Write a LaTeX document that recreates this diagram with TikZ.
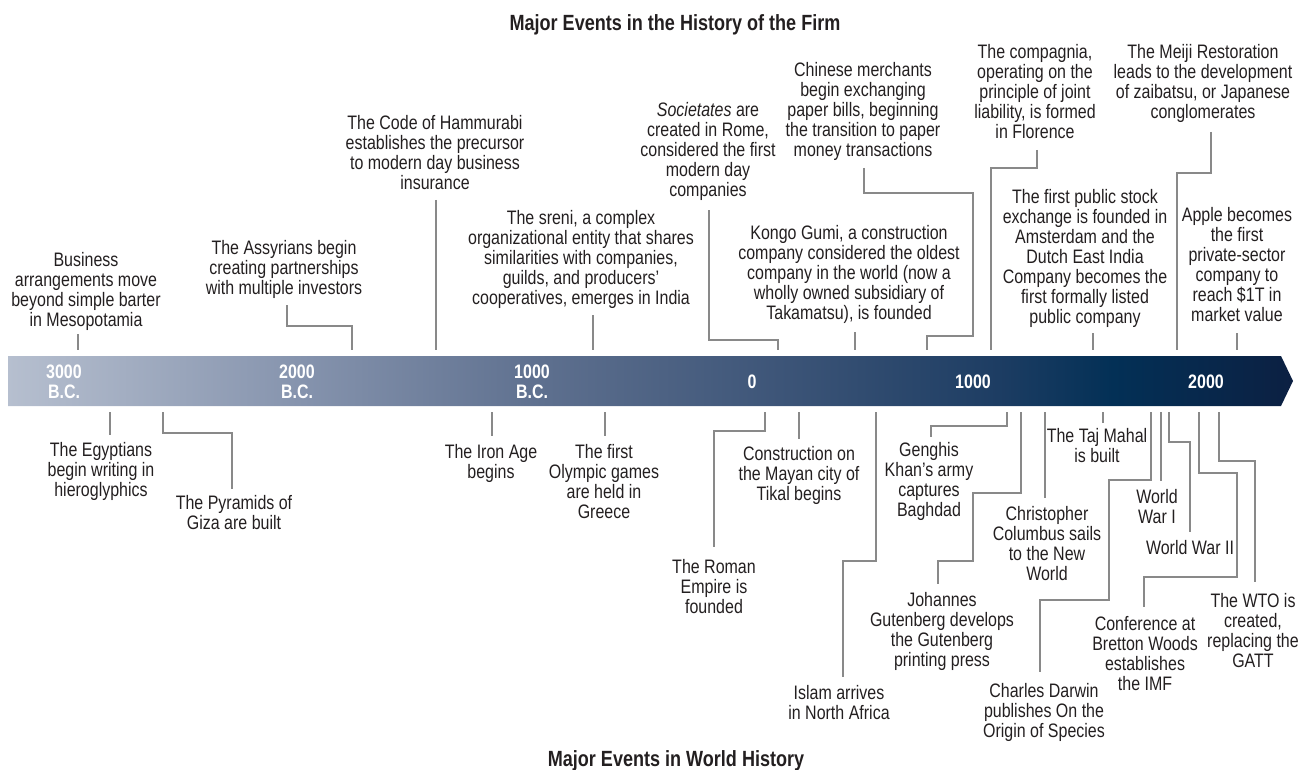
\documentclass[tikz,border=0pt]{standalone}
\usepackage{fontspec}
\setmainfont{Liberation Sans}[FakeStretch=0.82]
\definecolor{ink}{RGB}{35,31,32}
\definecolor{wire}{RGB}{137,137,137}
\definecolor{barA}{RGB}{182,191,207}
\definecolor{barB}{RGB}{133,147,173}
\definecolor{barC}{RGB}{93,111,142}
\definecolor{barD}{RGB}{61,85,120}
\definecolor{barE}{RGB}{29,61,99}
\definecolor{barF}{RGB}{3,48,86}
\definecolor{barG}{RGB}{12,32,66}
\pgfdeclarehorizontalshading{barshade}{100bp}{color(0bp)=(barA); color(25bp)=(barA); color(36.5bp)=(barB); color(46bp)=(barC); color(55bp)=(barD); color(63.5bp)=(barE); color(68bp)=(barF); color(75bp)=(barG); color(100bp)=(barG)}
\newcommand\evfont{\fontsize{19.5}{20}\selectfont}
\newcommand\hdfont{\fontsize{22}{24}\selectfont}

\begin{document}
\begin{tikzpicture}[x=1pt,y=-1pt,
  ev/.style={anchor=north,align=center,inner sep=0pt,text=ink,font=\evfont,execute at begin node={\rule{0pt}{14.5pt}}},
  yr/.style={align=center,inner sep=0pt,text=white,font=\evfont\bfseries},
  hd/.style={anchor=base,inner sep=0pt,text=ink,font=\hdfont\bfseries},
  conn/.style={draw=wire,line width=1.3pt}]
\useasboundingbox (0,0) rectangle (1311,770);

%la barre du temps
\shade[shading=barshade] (8,356) -- (1281,356) -- (1293,381) -- (1281,406) -- (8,406) -- cycle;
\node[yr] (y3000) at (64,382) {3000\\B.C.};
\node[yr] (y2000) at (297,382) {2000\\B.C.};
\node[yr] (y1000) at (532,382) {1000\\B.C.};
\node[yr] (y0) at (752,382) {0};
\node[yr] (a1000) at (973,382) {1000};
\node[yr] (a2000) at (1206,382) {2000};

%les titres
\node[hd] (firm) at (675,31) {Major Events in the History of the Firm};
\node[hd] (world) at (676,766) {Major Events in World History};

%au-dessus : la firme
\node[ev] (biz) at (86,252) {Business\\arrangements move\\beyond simple barter\\in Mesopotamia};
\node[ev] (assy) at (284,240) {The Assyrians begin\\creating partnerships\\with multiple investors};
\node[ev] (hamm) at (435,115) {The Code of Hammurabi\\establishes the precursor\\to modern day business\\insurance};
\node[ev] (sreni) at (581,210) {The sreni, a complex\\organizational entity that shares\\similarities with companies,\\guilds, and producers’\\cooperatives, emerges in India};
\node[ev] (soc) at (708,102) {\textit{Societates} are\\created in Rome,\\considered the first\\modern day\\companies};
\node[ev] (kongo) at (849,225) {Kongo Gumi, a construction\\company considered the oldest\\company in the world (now a\\wholly owned subsidiary of\\Takamatsu), is founded};
\node[ev] (chin) at (863,62) {Chinese merchants\\begin exchanging\\paper bills, beginning\\the transition to paper\\money transactions};
\node[ev] (comp) at (1035,44) {The compagnia,\\operating on the\\principle of joint\\liability, is formed\\in Florence};
\node[ev] (meiji) at (1203,44) {The Meiji Restoration\\leads to the development\\of zaibatsu, or Japanese\\conglomerates};
\node[ev] (stock) at (1085,189) {The first public stock\\exchange is founded in\\Amsterdam and the\\Dutch East India\\Company becomes the\\first formally listed\\public company};
\node[ev] (apple) at (1237,207) {Apple becomes\\the first\\private-sector\\company to\\reach \$1T in\\market value};

\coordinate (biz-in) at (78,334);     \coordinate (biz-at) at (78,350);
\coordinate (assy-in) at (287,305);   \coordinate (assy-at) at (352,350);
\coordinate (hamm-in) at (436,200);   \coordinate (hamm-at) at (436,350);
\coordinate (sreni-in) at (593,315);  \coordinate (sreni-at) at (593,350);
\coordinate (soc-in) at (709,210);    \coordinate (soc-at) at (778,350);
\coordinate (kongo-in) at (855,332);  \coordinate (kongo-at) at (855,350);
\coordinate (chin-in) at (864,168);   \coordinate (chin-at) at (927,350);
\coordinate (comp-in) at (1037,150);  \coordinate (comp-at) at (991,350);
\coordinate (meiji-in) at (1211,132); \coordinate (meiji-at) at (1177,350);
\coordinate (stock-in) at (1093,333); \coordinate (stock-at) at (1093,350);
\coordinate (apple-in) at (1237,333); \coordinate (apple-at) at (1237,350);

\draw[conn] (biz-in) -- (biz-at);
\draw[conn] (assy-in) -- ++(0,21) -| (assy-at);
\draw[conn] (hamm-in) -- (hamm-at);
\draw[conn] (sreni-in) -- (sreni-at);
\draw[conn] (soc-in) -- ++(0,130) -| (soc-at);
\draw[conn] (kongo-in) -- (kongo-at);
\draw[conn] (chin-in) -- ++(0,25) -- ++(109,0) -- ++(0,143) -| (chin-at);
\draw[conn] (comp-in) -- ++(0,18) -| (comp-at);
\draw[conn] (meiji-in) -- ++(0,41) -| (meiji-at);
\draw[conn] (stock-in) -- (stock-at);
\draw[conn] (apple-in) -- (apple-at);

%au-dessous : le monde
\node[ev] (egypt) at (101,442) {The Egyptians\\begin writing in\\hieroglyphics};
\node[ev] (pyr) at (234,495) {The Pyramids of\\Giza are built};
\node[ev] (iron) at (491,444) {The Iron Age\\begins};
\node[ev] (olymp) at (604,444) {The first\\Olympic games\\are held in\\Greece};
\node[ev] (roman) at (714,559) {The Roman\\Empire is\\founded};
\node[ev] (tikal) at (799,446) {Construction on\\the Mayan city of\\Tikal begins};
\node[ev] (islam) at (839,685) {Islam arrives\\in North Africa};
\node[ev] (genghis) at (929,442) {Genghis\\Khan’s army\\captures\\Baghdad};
\node[ev] (guten) at (942,592) {Johannes\\Gutenberg develops\\the Gutenberg\\printing press};
\node[ev] (colum) at (1047,506) {Christopher\\Columbus sails\\to the New\\World};
\node[ev] (taj) at (1097,428) {The Taj Mahal\\is built};
\node[ev] (darwin) at (1044,683) {Charles Darwin\\publishes On the\\Origin of Species};
\node[ev] (ww1) at (1157,489) {World\\War I};
\node[ev] (ww2) at (1190,540) {World War II};
\node[ev] (bretton) at (1145,616) {Conference at\\Bretton Woods\\establishes\\the IMF};
\node[ev] (wto) at (1253,593) {The WTO is\\created,\\replacing the\\GATT};

\coordinate (egypt-at) at (110,412);    \coordinate (egypt-in) at (110,435);
\coordinate (pyr-at) at (163,412);      \coordinate (pyr-in) at (232,489);
\coordinate (iron-at) at (492,412);     \coordinate (iron-in) at (492,436);
\coordinate (olymp-at) at (605,412);    \coordinate (olymp-in) at (605,436);
\coordinate (roman-at) at (765,412);    \coordinate (roman-in) at (714,547);
\coordinate (tikal-at) at (799,412);    \coordinate (tikal-in) at (799,439);
\coordinate (islam-at) at (876,412);    \coordinate (islam-in) at (843,677);
\coordinate (genghis-at) at (1007,412); \coordinate (genghis-in) at (931,437);
\coordinate (guten-at) at (1021,412);   \coordinate (guten-in) at (938,584);
\coordinate (colum-at) at (1045,412);   \coordinate (colum-in) at (1045,498);
\coordinate (taj-at) at (1103,412);     \coordinate (taj-in) at (1103,423);
\coordinate (darwin-at) at (1151,412);  \coordinate (darwin-in) at (1040,672);
\coordinate (ww1-at) at (1161,412);     \coordinate (ww1-in) at (1161,481);
\coordinate (ww2-at) at (1169,412);     \coordinate (ww2-in) at (1190,532);
\coordinate (bretton-at) at (1199,412); \coordinate (bretton-in) at (1144,607);
\coordinate (wto-at) at (1219,412);     \coordinate (wto-in) at (1255,582);

\draw[conn] (egypt-at) -- (egypt-in);
\draw[conn] (pyr-at) -- ++(0,21) -| (pyr-in);
\draw[conn] (iron-at) -- (iron-in);
\draw[conn] (olymp-at) -- (olymp-in);
\draw[conn] (roman-at) -- ++(0,19) -| (roman-in);
\draw[conn] (tikal-at) -- (tikal-in);
\draw[conn] (islam-at) -- ++(0,149) -| (islam-in);
\draw[conn] (genghis-at) -- ++(0,14) -| (genghis-in);
\draw[conn] (guten-at) -- ++(0,81) -- ++(-48,0) -- ++(0,68) -| (guten-in);
\draw[conn] (colum-at) -- (colum-in);
\draw[conn] (taj-at) -- (taj-in);
\draw[conn] (darwin-at) -- ++(0,68) -- ++(-42,0) -- ++(0,120) -| (darwin-in);
\draw[conn] (ww1-at) -- (ww1-in);
\draw[conn] (ww2-at) -- ++(0,30) -| (ww2-in);
\draw[conn] (bretton-at) -- ++(0,61) -- ++(38,0) -- ++(0,104) -| (bretton-in);
\draw[conn] (wto-at) -- ++(0,49) -| (wto-in);

\end{tikzpicture}
\end{document}
